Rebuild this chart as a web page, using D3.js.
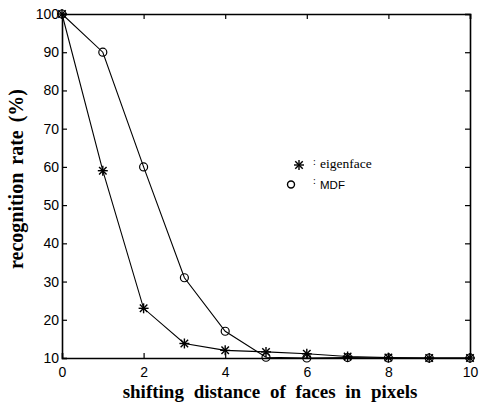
<!DOCTYPE html>
<html>
<head>
<meta charset="utf-8">
<script src="https://cdn.jsdelivr.net/npm/d3@7"></script>
<style>
  body { margin: 0; background: #fff; }
  svg { display: block; }
</style>
</head>
<body>
<svg id="chart" width="483" height="405"></svg>
<script>
// Recognition rate vs. shift of the face image
const shifts = [0, 1, 2, 3, 4, 5, 6, 7, 8, 9, 10];
const eigenface = [100, 59, 23, 13.8, 12, 11.6, 11.1, 10.4, 10.1, 10, 10];
const mdf = [100, 90, 60, 31, 17, 10.2, 10, 10.1, 10, 10, 10];
const xTicks = [0, 2, 4, 6, 8, 10];
const yTicks = [10, 20, 30, 40, 50, 60, 70, 80, 90, 100];

(function () {
const svg = d3.select("#chart");
const plotLeft = 62, plotRight = 470, plotTop = 14, plotBottom = 358;

const x = d3.scaleLinear().domain([0, 10]).range([plotLeft, plotRight]);
const y = d3.scaleLinear().domain([10, 100]).range([plotBottom, plotTop]);

const tickFont = "Liberation Sans, Arial, sans-serif";
const titleFont = "Liberation Serif, 'Times New Roman', serif";

// Bottom and left axes with inward ticks
const gx = svg.append("g").attr("transform", `translate(0,${plotBottom})`)
  .call(d3.axisBottom(x).tickValues(xTicks).tickSize(-5).tickPadding(9).tickFormat(d3.format("d")));
const gy = svg.append("g").attr("transform", `translate(${plotLeft},0)`)
  .call(d3.axisLeft(y).tickValues(yTicks).tickSize(-5).tickPadding(3).tickFormat(d3.format("d")));
// Mirrored top and right axes
const gt = svg.append("g").attr("transform", `translate(0,${plotTop})`)
  .call(d3.axisTop(x).tickValues(xTicks).tickSize(-5).tickFormat(""));
const gr = svg.append("g").attr("transform", `translate(${plotRight},0)`)
  .call(d3.axisRight(y).tickValues(yTicks).tickSize(-5).tickFormat(""));

[gx, gy, gt, gr].forEach(g => {
  g.selectAll("path.domain").attr("stroke", "#000").attr("stroke-width", 1.6);
  g.selectAll(".tick line").attr("stroke", "#000").attr("stroke-width", 1.2);
  g.selectAll(".tick text").attr("fill", "#000")
    .style("font-family", tickFont).style("font-size", "14px");
});

// Series lines
const line = d3.line().x((d, i) => x(shifts[i])).y(d => y(d));
[eigenface, mdf].forEach(series => {
  svg.append("path").datum(series)
    .attr("d", line)
    .attr("fill", "none")
    .attr("stroke", "#000")
    .attr("stroke-width", 1.1);
});

// Asterisk marker
function star(g, cx, cy, s) {
  const m = g.append("g").attr("transform", `translate(${cx},${cy})`)
    .attr("stroke", "#000").attr("stroke-width", 1.4);
  m.append("line").attr("x1", -s).attr("x2", s).attr("y1", 0).attr("y2", 0);
  m.append("line").attr("x1", 0).attr("x2", 0).attr("y1", -s).attr("y2", s);
  const d = s * 0.75;
  m.append("line").attr("x1", -d).attr("x2", d).attr("y1", -d).attr("y2", d);
  m.append("line").attr("x1", -d).attr("x2", d).attr("y1", d).attr("y2", -d);
}

const markers = svg.append("g");
mdf.forEach((v, i) => {
  markers.append("circle").attr("cx", x(shifts[i])).attr("cy", y(v)).attr("r", 4)
    .attr("fill", "none").attr("stroke", "#000").attr("stroke-width", 1.2);
});
eigenface.forEach((v, i) => star(markers, x(shifts[i]), y(v), 5));

// Legend
const lg = svg.append("g");
star(lg, 299, 165, 5);
lg.append("text").attr("x", 313).attr("y", 165).text(":")
  .style("font-family", titleFont).style("font-size", "10px");
lg.append("text").attr("x", 320).attr("y", 168).text("eigenface")
  .style("font-family", titleFont).style("font-size", "13.5px");
lg.append("circle").attr("cx", 291).attr("cy", 184.5).attr("r", 3.5)
  .attr("fill", "none").attr("stroke", "#000").attr("stroke-width", 1.4);
lg.append("text").attr("x", 313).attr("y", 184).text(":")
  .style("font-family", titleFont).style("font-size", "10px");
lg.append("text").attr("x", 320).attr("y", 189).text("MDF")
  .style("font-family", tickFont).style("font-size", "11.5px");

// Axis titles
svg.append("text")
  .attr("x", 270).attr("y", 398)
  .attr("text-anchor", "middle")
  .style("font-family", titleFont)
  .style("font-weight", "bold").style("font-size", "19px")
  .style("word-spacing", "5px")
  .text("shifting distance of faces in pixels");

svg.append("text")
  .attr("transform", "translate(23,179) rotate(-90)")
  .attr("text-anchor", "middle")
  .style("font-family", titleFont)
  .style("font-weight", "bold").style("font-size", "20px")
  .style("word-spacing", "3px")
  .text("recognition rate (%)");
})();
</script>
</body>
</html>
